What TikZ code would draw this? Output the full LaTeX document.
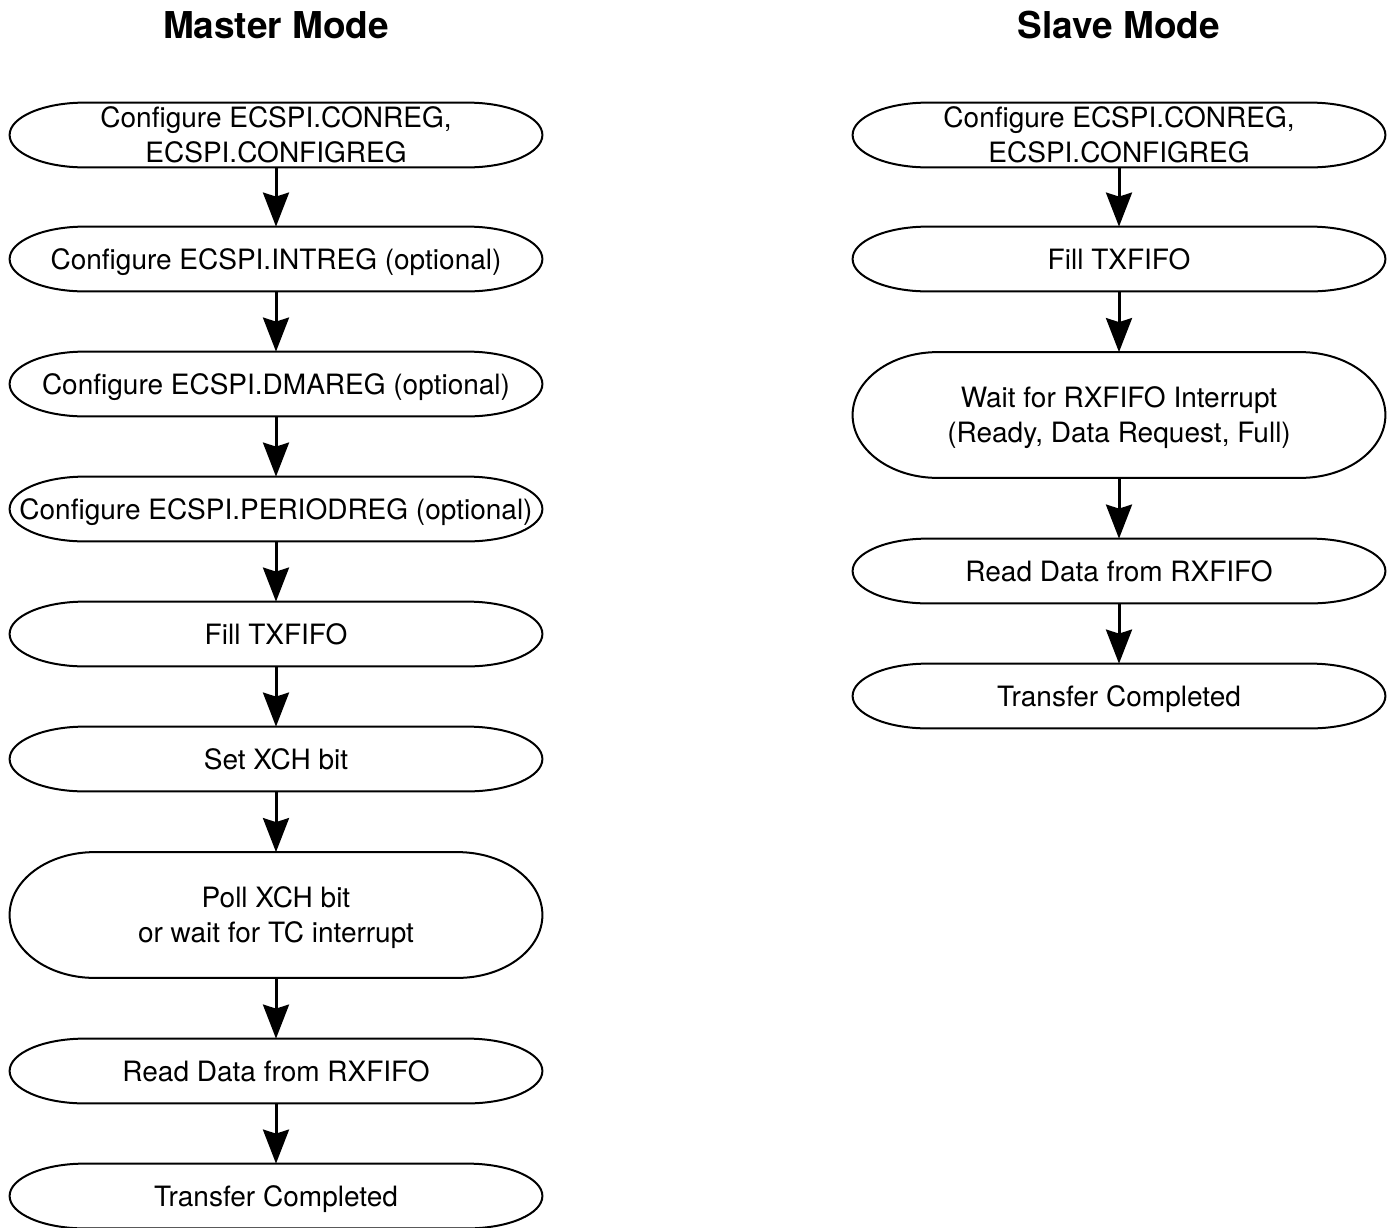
\documentclass[tikz,border=0pt]{standalone}
\usepackage{fontspec}
\setmainfont{TeX Gyre Heros}
\usetikzlibrary{arrows.meta,calc}

\begin{document}
\begin{tikzpicture}[x=0.5pt, y=-0.5pt,
    term/.style={minimum width=266pt, minimum height=32pt, inner sep=0pt,
        font=\fontsize{14}{17.5}\selectfont, text height=10pt, text depth=0pt},
    twoline/.style={term, minimum height=62.5pt, text depth=17.5pt},
    topline/.style={term, text depth=17.5pt},
    title/.style={font=\fontsize{18.5}{22}\selectfont\bfseries, text height=13.3pt, text depth=0pt},
    flow/.style={line width=1.5pt, -{Stealth[length=17pt, width=13pt, inset=2pt]}},
    outline/.style={line width=1pt}]

    \useasboundingbox (0,0) rectangle (1392,1227);

    % Titles
    \node[title] (mtitle) at (276,25) {Master Mode};
    \node[title] (stitle) at (1119,25) {Slave Mode};

    % Master mode steps
    \node[topline] (m1) at (276,135) {\begin{tabular}[t]{@{}c@{}}Configure ECSPI.CONREG,\\ECSPI.CONFIGREG\end{tabular}};
    \node[term] (m2) at (276,259) {Configure ECSPI.INTREG (optional)};
    \node[term] (m3) at (276,384) {Configure ECSPI.DMAREG (optional)};
    \node[term] (m4) at (276,509) {Configure ECSPI.PERIODREG (optional)};
    \node[term] (m5) at (276,634) {Fill TXFIFO};
    \node[term] (m6) at (276,759) {Set XCH bit};
    \node[twoline] (m7) at (276,915) {\begin{tabular}[t]{@{}c@{}}Poll XCH bit\\or wait for TC interrupt\end{tabular}};
    \node[term] (m8) at (276,1071) {Read Data from RXFIFO};
    \node[term] (m9) at (276,1196) {Transfer Completed};

    % Slave mode steps
    \node[topline] (s1) at (1119,135) {\begin{tabular}[t]{@{}c@{}}Configure ECSPI.CONREG,\\ECSPI.CONFIGREG\end{tabular}};
    \node[term] (s2) at (1119,259) {Fill TXFIFO};
    \node[twoline] (s3) at (1119,415) {\begin{tabular}[t]{@{}c@{}}Wait for RXFIFO Interrupt\\(Ready, Data Request, Full)\end{tabular}};
    \node[term] (s4) at (1119,571) {Read Data from RXFIFO};
    \node[term] (s5) at (1119,696) {Transfer Completed};

    % Draw outlines
    \foreach \nd/\rx in {m1/37.5,m2/37.5,m3/37.5,m4/37.5,m5/37.5,m6/37.5,m7/42.5,m8/37.5,m9/37.5,
                         s1/37.5,s2/37.5,s3/42.5,s4/37.5,s5/37.5}
        \draw[outline] let \p1=(\nd.north west), \p2=(\nd.south east), \n1={(\y1-\y2)/2} in
            (\x1+\rx*1pt,\y1) -- (\x2-\rx*1pt,\y1)
            arc[start angle=90, end angle=-90, x radius=\rx*1pt, y radius=\n1*1pt]
            -- (\x1+\rx*1pt,\y2)
            arc[start angle=270, end angle=90, x radius=\rx*1pt, y radius=\n1*1pt] -- cycle;

    % Draw arrows
    \foreach \a/\b in {m1/m2,m2/m3,m3/m4,m4/m5,m5/m6,m6/m7,m7/m8,m8/m9,
                       s1/s2,s2/s3,s3/s4,s4/s5}
        \draw[flow] (\a) -- (\b);

\end{tikzpicture}
\end{document}
